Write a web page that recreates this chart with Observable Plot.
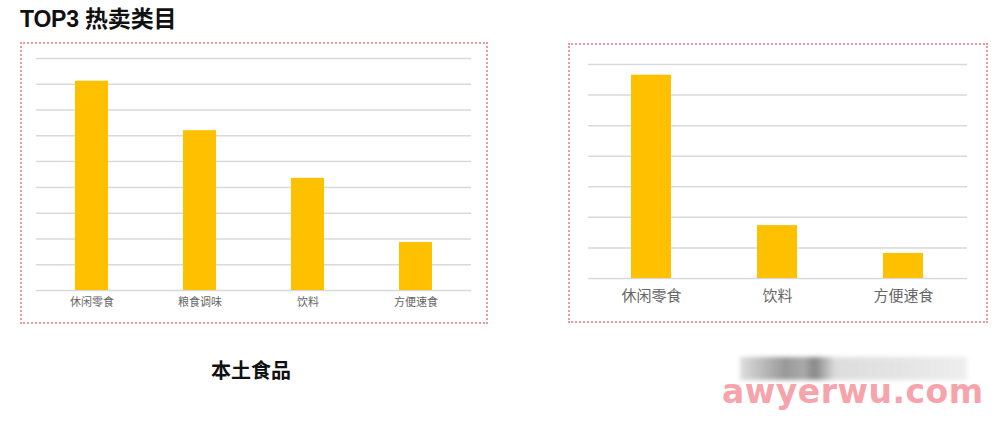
<!DOCTYPE html>
<html>
<head>
<meta charset="utf-8">
<script src="https://cdn.jsdelivr.net/npm/d3@7"></script>
<script src="https://cdn.jsdelivr.net/npm/@observablehq/plot@0.6"></script>
<style>
  html, body { margin: 0; padding: 0; background: #fff; }
  body { width: 1000px; height: 429px; position: relative; overflow: hidden;
         font-family: "Noto Sans CJK SC", "Noto Sans", sans-serif; }
  .abs { position: absolute; }
  .box { position: absolute; border: 2px dotted #ec9a9a; box-sizing: border-box; }
  #title { left: 20px; top: 0px; font-family: "Liberation Sans", "Noto Sans CJK SC", sans-serif;
           font-weight: bold; font-size: 23px; color: #111; letter-spacing: -0.2px; }
  #caption { left: 211px; top: 355px; font-weight: bold; font-size: 20px; color: #111; }
  #blur { left: 740px; top: 357px; width: 227px; height: 23px; filter: blur(2px);
          background: linear-gradient(90deg, #ddd 0%, #bbb 10%, #999 20%, #aaa 28%, #888 33%, #ddd 42%, #e4e4e4 70%, #eee 100%); }
  #wm { left: 722px; top: 372px; font-family: "DejaVu Sans", sans-serif; font-weight: bold;
        font-size: 33px; color: #f6a3ab; letter-spacing: 0.5px; }
</style>
</head>
<body>
<div id="title" class="abs">TOP3 热卖类目</div>
<div class="box" style="left:20px; top:42px; width:468px; height:282px;"></div>
<div class="box" style="left:568px; top:43px; width:420px; height:280px;"></div>
<div id="left" class="abs" style="left:21px; top:43px;"></div>
<div id="right" class="abs" style="left:569px; top:44px;"></div>
<div id="caption" class="abs">本土食品</div>
<div id="blur" class="abs"></div>
<div id="wm" class="abs">awyerwu.com</div>
<script>
// Left chart: 本土食品
const leftCategories = ["休闲零食", "粮食调味", "饮料", "方便速食"];
const leftValues = [8.12, 6.2, 4.35, 1.86];
const leftGridTicks = [0, 1, 2, 3, 4, 5, 6, 7, 8, 9];

// Right chart
const rightCategories = ["休闲零食", "饮料", "方便速食"];
const rightValues = [6.65, 1.73, 0.82];
const rightGridTicks = [0, 1, 2, 3, 4, 5, 6, 7];

const barColor = "#FFC000";
const gridColor = "#d9d9d9";

function makeChart(cats, vals, ticks, opts) {
  const data = cats.map((c, i) => ({category: c, value: vals[i]}));
  return Plot.plot({
    width: opts.width,
    height: opts.height,
    marginLeft: opts.ml,
    marginRight: opts.mr,
    marginTop: opts.mt,
    marginBottom: opts.mb,
    style: {fontFamily: '"Noto Sans CJK SC", sans-serif', background: "transparent"},
    x: {domain: cats, paddingInner: opts.pad, paddingOuter: opts.pad / 2, align: 0.5, label: null},
    y: {domain: [ticks[0], ticks[ticks.length - 1]], axis: null},
    marks: [
      Plot.ruleY(ticks, {stroke: gridColor, strokeWidth: 1.5}),
      Plot.barY(data, {x: "category", y: "value", fill: barColor}),
      Plot.axisX({tickSize: 0, tickPadding: opts.tp, fontSize: opts.fs, fill: "#666", label: null})
    ]
  });
}

document.getElementById("left").appendChild(makeChart(leftCategories, leftValues, leftGridTicks,
  {width: 466, height: 280, ml: 15, mr: 16, mt: 15, mb: 33, pad: 0.69, tp: 8, fs: 11}));
document.getElementById("right").appendChild(makeChart(rightCategories, rightValues, rightGridTicks,
  {width: 418, height: 278, ml: 19, mr: 20, mt: 20, mb: 44, pad: 0.68, tp: 12, fs: 15}));
</script>
</body>
</html>
